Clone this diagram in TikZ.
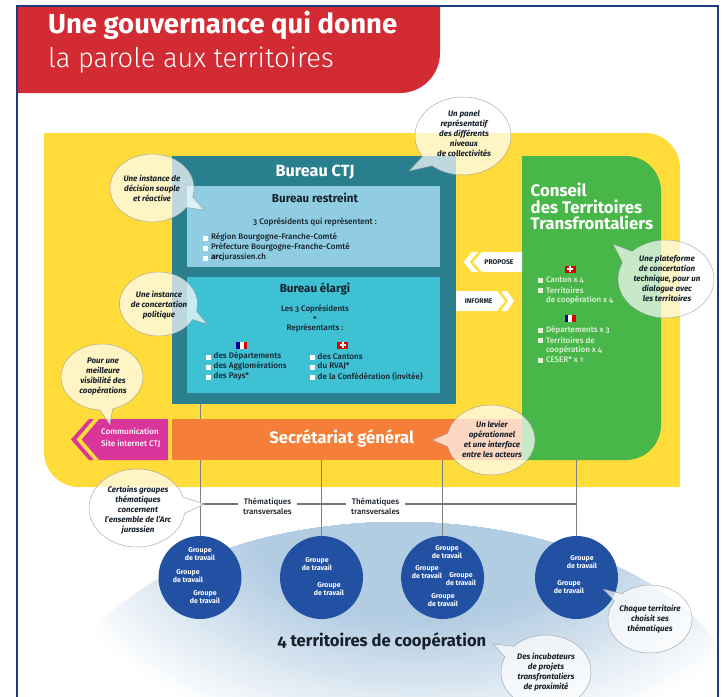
\documentclass[tikz,border=0pt]{standalone}
\usepackage{fontspec}
\setmainfont{Fira Sans}[Numbers=OldStyle]
\newfontfamily\lightf{Fira Sans Light}[Numbers=OldStyle]
\newfontfamily\medf{Fira Sans Medium}[Numbers=OldStyle]
\definecolor{cred}{HTML}{D32B33}
\definecolor{cyellow}{HTML}{FFDC3A}
\definecolor{cteal}{HTML}{2A7F8F}
\definecolor{clight}{HTML}{90CDE2}
\definecolor{ccyan}{HTML}{3FC1D4}
\definecolor{cgreen}{HTML}{48B649}
\definecolor{corange}{HTML}{F57E38}
\definecolor{cmag}{HTML}{D9359B}
\definecolor{cblue}{HTML}{2251A3}
\definecolor{cnavy}{HTML}{1F3A7A}
\definecolor{cink}{HTML}{16202A}
\definecolor{cpale}{HTML}{E4F4DC}
\definecolor{csky}{HTML}{B2CCE2}
\tikzset{
  x=1pt,y=-1pt,
  box/.style={inner sep=0pt,outer sep=0pt,anchor=north west},
  txt/.style={inner sep=0pt,outer sep=0pt,text=cink,align=center,font=\fontsize{8.2}{10}\selectfont\medf},
  listt/.style={inner sep=0pt,outer sep=0pt,text=cink,anchor=west,font=\fontsize{8.1}{10}\selectfont\medf},
  greent/.style={inner sep=0pt,outer sep=0pt,text=cpale,anchor=west,font=\fontsize{8}{10}\selectfont\medf},
  bubtext/.style={inner sep=0pt,outer sep=0pt,text=cink,align=center,font=\fontsize{8}{10}\selectfont\bfseries\itshape},
  grouptext/.style={inner sep=0pt,outer sep=0pt,text=white,align=center,font=\fontsize{7}{8}\selectfont\bfseries},
  terr/.style={circle,fill=cblue,minimum size=83pt,inner sep=0pt,outer sep=0pt},
  linkline/.style={draw=black!50,line width=0.7pt},
  hlink/.style={draw=black!55,line width=1.1pt},
  bubfill/.style={fill=white,fill opacity=0.7,draw=black!45,draw opacity=0.7,line width=0.5pt},
}
% cx cy rx ry angle gap tipx tipy
\newcommand{\speech}[8]{\path[bubfill] plot[domain={#5+#6}:{#5+360-#6},samples=70,smooth] ({#1+#3*cos(\x)},{#2+#4*sin(\x)}) -- (#7,#8) -- cycle;}
\newcommand{\sqb}[3][white]{\fill[#1] (#2-2.5,#3-2.5) rectangle (#2+2.5,#3+2.5);}
\newcommand{\flagfr}[2]{\fill[blue!60!black] (#1-5.5,#2-3.5) rectangle (#1-1.8,#2+3.5);\fill[white] (#1-1.8,#2-3.5) rectangle (#1+1.8,#2+3.5);\fill[red!85!black] (#1+1.8,#2-3.5) rectangle (#1+5.5,#2+3.5);}
\newcommand{\flagch}[2]{\fill[red!85!black] (#1-5.5,#2-3.5) rectangle (#1+5.5,#2+3.5);\fill[white] (#1-3,#2-1) rectangle (#1+3,#2+1);\fill[white] (#1-1,#2-2.6) rectangle (#1+1,#2+2.6);}
\begin{document}
\begin{tikzpicture}
\useasboundingbox (0,0) rectangle (724,697);
\begin{scope}
\clip (0,0) rectangle (724,697);
% sky
\begin{scope}
\clip (400,722) ellipse [x radius=345pt,y radius=200pt];
\foreach \i in {0,2,...,100}{
  \pgfmathsetmacro{\rx}{165+(100-\i)*2.05}
  \pgfmathsetmacro{\ry}{85+(100-\i)*1.3}
  \fill[csky!\i!white] (420,535) ellipse [x radius=\rx pt,y radius=\ry pt];
}
\end{scope}
% frame
\draw[cnavy,line width=1.5pt] (17,697) -- (17,6) -- (718,6) -- (718,697);
% title band
\fill[cred] (18,7) -- (440,7) -- (440,53) .. controls (440,75) and (422,93) .. (400,93) -- (18,93) -- cycle;
\node[anchor=base west,inner sep=0pt,text=white,font=\fontsize{27.5}{30}\selectfont\bfseries] (title1) at (48,33.5) {Une gouvernance qui donne};
\node[anchor=base west,inner sep=0pt,text=white,font=\fontsize{27.3}{30}\selectfont\lightf] (title2) at (48,67) {la parole aux territoires};
% yellow panel
\fill[cyellow] (44,133) -- (645,133) .. controls (664.3,133) and (680,148.7) .. (680,168) -- (680,487) -- (79,487) .. controls (59.7,487) and (44,471.3) .. (44,452) -- cycle;
% boxes
\node[box,fill=cteal,minimum width=284.5pt,minimum height=248pt] (ctj) at (171.5,156) {};
\node[box,fill=clight,minimum width=253pt,minimum height=81.5pt] (restreint) at (187,185.5) {};
\node[box,fill=ccyan,minimum width=253pt,minimum height=116pt] (elargi) at (187,277) {};
\fill[cgreen] (522,156) -- (626,156) .. controls (645.3,156) and (661,171.7) .. (661,191) -- (661,425) .. controls (661,444.3) and (645.3,460) .. (626,460) -- (522,460) -- cycle;
\coordinate (greensouth) at (576.5,460);
\node[box,fill=corange,minimum width=350.5pt,minimum height=41pt] (secr) at (171.5,419) {};
% communication arrow
\fill[cmag] (71,439.5) -- (89,419) -- (168,419) -- (168,460) -- (89,460) -- cycle;
\fill[cyellow] (94,419) -- (99,419) -- (81.5,439.5) -- (99,460) -- (94,460) -- (76.5,439.5) -- cycle;
% territories
\node[terr] (t1) at (200,577.5) {};
\node[terr] (t2) at (321.5,577.5) {};
\node[terr] (t3) at (442.6,577.5) {};
\node[terr] (t4) at (576.5,577.5) {};
% thematic labels
\node[txt,font=\fontsize{8}{10}\selectfont\medf] (th1) at (267.5,506) {Thématiques\\transversales};
\node[txt,font=\fontsize{8}{10}\selectfont\medf] (th2) at (375.5,506) {Thématiques\\transversales};
\coordinate (j1) at (200,504);
\coordinate (j4) at (576.5,504);
% connectors
\draw[linkline] (ctj.south -| t1.north) -- (secr.north -| t1.north);
\draw[linkline] (t1.north) -- (t1.north |- secr.south);
\draw[linkline] (t2.north) -- (t2.north |- secr.south);
\draw[linkline] (t3.north) -- (t3.north |- secr.south);
\draw[linkline] (t4.north) -- (greensouth);
\draw[hlink] (j1) -- ([xshift=-5pt]th1.west |- j1);
\draw[hlink] ([xshift=5pt]th1.east |- j1) -- ([xshift=-5pt]th2.west |- j1);
\draw[hlink] ([xshift=5pt]th2.east |- j1) -- (j4);
% Bureau CTJ texts
\node[txt,text=white,font=\fontsize{16.2}{18}\selectfont\bfseries] (ctjt) at (315,172) {Bureau CTJ};
\node[txt,font=\fontsize{11.6}{13}\selectfont\bfseries] (rt) at (315,197.5) {Bureau restreint};
\node[txt] (rt2) at (315,222) {3 Coprésidents qui représentent :};
\sqb{205.5}{238}\sqb{205.5}{248}\sqb{205.5}{258}
\node[listt] (r1) at (211,237.5) {Région Bourgogne-Franche-Comté};
\node[listt] (r2) at (211,247.5) {Préfecture Bourgogne-Franche-Comté};
\node[listt] (r3) at (211,257.5) {\textbf{arc}jurassien.ch};
\node[txt,font=\fontsize{11.6}{13}\selectfont\bfseries] (et) at (315,289) {Bureau élargi};
\node[txt,font=\fontsize{8}{9.5}\selectfont\medf] (et2) at (315,318.5) {Les 3 Coprésidents\\+\\Représentants :};
\flagfr{241.7}{345}\flagch{342.7}{345}
\sqb{208.5}{357}\sqb{208.5}{367}\sqb{208.5}{377}
\sqb{312}{357}\sqb{312}{367}\sqb{312}{377}
\node[listt] (e1) at (213.7,356.5) {des Départements};
\node[listt] (e2) at (213.7,366.5) {des Agglomérations};
\node[listt] (e3) at (213.7,376.5) {des Pays*};
\node[listt] (e4) at (317.7,356.5) {des Cantons};
\node[listt] (e5) at (317.7,366.5) {du RVAJ*};
\node[listt] (e6) at (317.7,376.5) {de la Confédération (invitée)};
% Secretariat / communication
\node[txt,text=white,font=\fontsize{16.6}{18}\selectfont\bfseries] (st) at (341.7,438) {Secrétariat général};
\node[inner sep=0pt,anchor=north west,align=left,text=white,font=\fontsize{8.1}{12}\selectfont\medf] (comm) at (101,428) {Communication\\Site internet CTJ};
% green
\node[inner sep=0pt,anchor=north west,align=left,text=white,font=\fontsize{16.8}{16.8}\selectfont\bfseries] (gt) at (530.5,182.5) {Conseil\\des Territoires\\Transfrontaliers};
\flagch{570}{269}\flagfr{570}{318.7}
\sqb[cpale]{540.5}{280}\sqb[cpale]{540.5}{290}\sqb[cpale]{540.5}{330}\sqb[cpale]{540.5}{340}\sqb[cpale]{540.5}{360}
\node[greent] (g1) at (546,280) {Canton x 4};
\node[greent] (g2) at (546,290) {Territoires};
\node[greent] (g3) at (546,300) {de coopération x 4};
\node[greent] (g4) at (546,330) {Départements x 3};
\node[greent] (g5) at (546,340) {Territoires de};
\node[greent] (g6) at (546,350) {coopération x 4};
\node[greent] (g7) at (546,360) {CESER* x 1};
% arrows
\fill[white] (522,252) -- (482,252) -- (473,262) -- (482,272) -- (522,272) -- cycle;
\fill[white] (472,252) -- (478,252) -- (469.5,262) -- (478,272) -- (472,272) -- (463.5,262) -- cycle;
\node[txt,font=\fontsize{6.8}{8}\selectfont\bfseries] (prop) at (499,262) {PROPOSE};
\fill[white] (456,291) -- (497,291) -- (505,301) -- (497,311) -- (456,311) -- cycle;
\fill[white] (501,291) -- (507,291) -- (514,301) -- (507,311) -- (501,311) -- (508,301) -- cycle;
\node[txt,font=\fontsize{6.8}{8}\selectfont\bfseries] (inf) at (478.7,301) {INFORME};
% groups
\node[grouptext] (g11) at (200,554) {Groupe\\de travail};
\node[grouptext] (g12) at (188,576) {Groupe\\de travail};
\node[grouptext] (g13) at (205,597) {Groupe\\de travail};
\node[grouptext] (g21) at (317,564) {Groupe\\de travail};
\node[grouptext] (g22) at (329,589) {Groupe\\de travail};
\node[grouptext] (g31) at (447,552) {Groupe\\de travail};
\node[grouptext] (g32) at (427,572) {Groupe\\de travail};
\node[grouptext] (g33) at (461,579) {Groupe\\de travail};
\node[grouptext] (g34) at (443,600) {Groupe\\de travail};
\node[grouptext] (g41) at (582,562) {Groupe\\de travail};
\node[grouptext] (g42) at (569,587) {Groupe\\de travail};
\node[txt,font=\fontsize{16.6}{18}\selectfont\bfseries] (terrt) at (382,641.5) {4 territoires de coopération};
% bubbles
\speech{463}{136}{48}{39}{139}{9}{409}{171}
\node[bubtext] (b1) at (464,133.5) {Un panel\\représentatif\\des différents\\niveaux\\de collectivités};
\speech{152}{188}{42}{34}{25}{10}{204}{210}
\node[bubtext] (b2) at (152,188) {Une instance de\\décision souple\\et réactive};
\speech{158.5}{304}{39}{32}{21}{8}{207}{324}
\node[bubtext] (b3) at (159,305) {Une instance\\de concertation\\politique};
\speech{102}{377}{41}{33}{84}{9}{110}{425}
\node[bubtext] (b4) at (103,377) {Pour une\\meilleure\\visibilité des\\coopérations};
\speech{491}{440}{44}{35}{180}{11}{432}{440}
\node[bubtext] (b5) at (492,439) {Un levier\\opérationnel\\et une interface\\entre les acteurs};
\speech{666}{279}{48}{39}{215}{10}{613}{244}
\node[bubtext] (b6) at (667,279) {Une plateforme\\de concertation\\technique, pour un\\dialogue avec\\les territoires};
\speech{137}{508}{48}{39}{-4}{12}{205}{504}
\node[bubtext] (b7) at (138,510) {Certains groupes\\thématiques\\concernent\\l'ensemble de l'Arc\\jurassien};
\speech{650}{619}{42}{34}{220}{8}{603}{589}
\node[bubtext] (b8) at (650,619) {Chaque territoire\\choisit ses\\thématiques};
\speech{546}{672}{45}{37}{214}{10}{493}{644}
\node[bubtext] (b9) at (546,672) {Des incubateurs\\de projets\\transfrontaliers\\de proximité};
\end{scope}
\end{tikzpicture}
\end{document}
